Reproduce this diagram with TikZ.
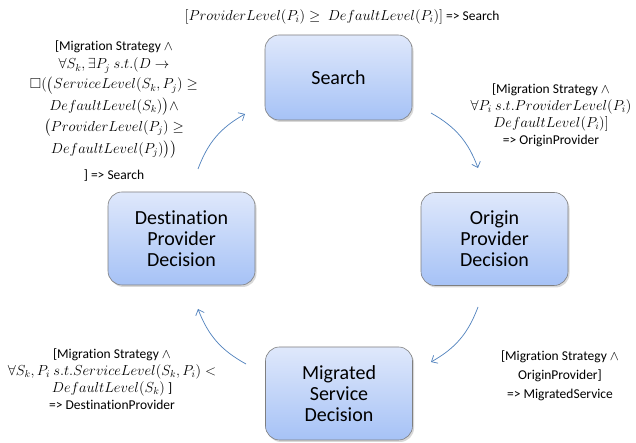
\RequirePackage{fix-cm}
\documentclass[tikz,border=0pt]{standalone}
\usepackage{amsmath}
\usepackage{amssymb}
\usepackage{fontspec}
\setmainfont{Carlito}[Ligatures=NoCommon]
\usetikzlibrary{arrows.meta,shadows}
\definecolor{boxtop}{HTML}{DFE8FB}
\definecolor{boxbot}{HTML}{A6C2F6}
\definecolor{boxline}{HTML}{7F7F7F}
\definecolor{arrowblue}{HTML}{4F81BD}
\newcommand{\mth}[1]{{\fontsize{14.5}{17}\selectfont$#1$}}
\begin{document}
\begin{tikzpicture}[x=1pt,y=1pt,
  box/.style={rounded corners=14pt, draw=boxline, line width=0.6pt,
    top color=boxtop, bottom color=boxbot,
    minimum width=147pt, minimum height=93pt, align=center,
    font=\fontsize{20}{21}\selectfont,
    drop shadow={opacity=0.3, shadow xshift=1.5pt, shadow yshift=-2pt}},
  lbl/.style={align=center, font=\fontsize{13.5}{17}\selectfont, inner sep=0pt},
  flow/.style={draw=arrowblue, line width=0.7pt,
    -{Straight Barb[length=5pt,width=9pt]}}]
\useasboundingbox (0,0) rectangle (636,443);
\fill[white] (0,0) rectangle (636,443);

\node[box, minimum height=85pt] (search) at (338.5,365.5) {Search};
\node[box] (origin) at (494.5,204) {Origin\\Provider\\Decision};
\node[box] (migrated) at (339,49.5) {Migrated\\Service\\Decision};
\node[box] (dest) at (181.5,204.5) {Destination\\Provider\\Decision};

\coordinate (a1s) at (431,330);
\coordinate (a1e) at (478,275);
\coordinate (a2s) at (478,136);
\coordinate (a2e) at (431,81);
\coordinate (a3s) at (246,79);
\coordinate (a3e) at (198,134);
\coordinate (a4s) at (198,274);
\coordinate (a4e) at (245,329);

\draw[flow] (a1s) to[bend left=20] (a1e);
\draw[flow] (a2s) to[bend left=20] (a2e);
\draw[flow] (a3s) to[bend left=20] (a3e);
\draw[flow] (a4s) to[bend left=20] (a4e);

\node[lbl] (ltop) at (342,426) {\mth{[ProviderLevel(P_i) \geq\ DefaultLevel(P_i)]} => Search};

\node[lbl] (lsearch) at (114,332) {[Migration Strategy $\wedge$\\[1pt]
\mth{\forall S_k, \exists P_j\ s.t.(D \rightarrow}\\[3pt]
\mth{\Box(\big(ServiceLevel(S_k,P_j) \geq}\\[3pt]
\mth{DefaultLevel(S_k)\big) \wedge}\\[3pt]
\mth{\big(ProviderLevel(P_j) \geq}\\[3pt]
\mth{DefaultLevel(P_j)\big)\big)}\\[9pt]
] => Search};

\node[lbl] (lorigin) at (551,328) {[Migration Strategy $\wedge$\\
\mth{\forall P_i\ s.t.ProviderLevel(P_i)}\\
\mth{DefaultLevel(P_i)]}\\
=> OriginProvider};

\node[lbl] (ldest) at (112,64) {[Migration Strategy $\wedge$\\
\mth{\forall S_k, P_i\ s.t.ServiceLevel(S_k,P_i) <}\\
\mth{DefaultLevel(S_k)}\ ]\\
=> DestinationProvider};

\node[lbl] (lmig) at (560,67) {[Migration Strategy $\wedge$\\[2pt]
OriginProvider]\\[2pt]
=> MigratedService};
\end{tikzpicture}
\end{document}
